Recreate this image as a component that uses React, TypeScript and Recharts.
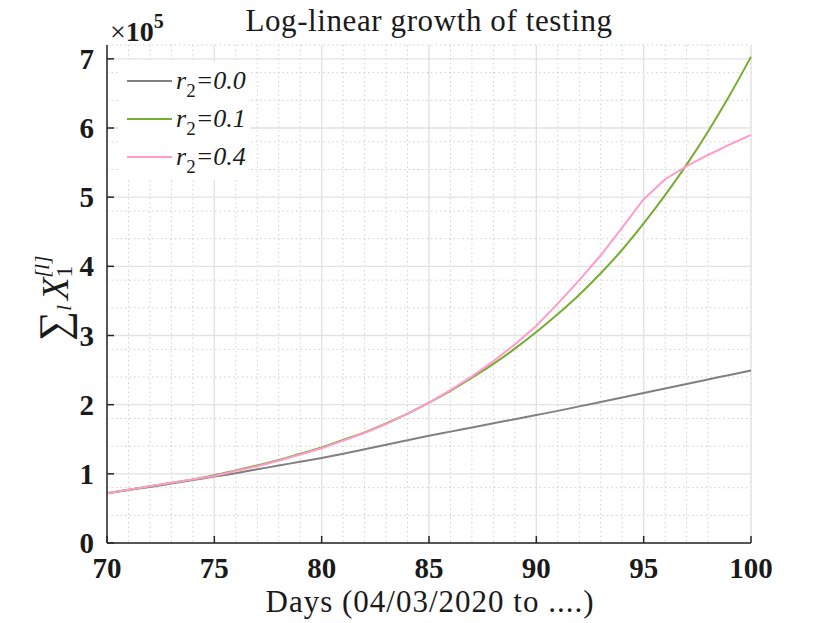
import React from "react";
import {
  LineChart,
  Line,
  XAxis,
  YAxis,
  CartesianGrid,
} from "recharts";

const days = [
  70, 71, 72, 73, 74, 75, 76, 77, 78, 79, 80, 81, 82, 83, 84, 85, 86, 87, 88,
  89, 90, 91, 92, 93, 94, 95, 96, 97, 98, 99, 100,
];

// cumulative tests, in units of 1e5
const r00 = [
  0.72, 0.765, 0.81, 0.86, 0.91, 0.96, 1.01, 1.065, 1.12, 1.175, 1.23, 1.29,
  1.355, 1.42, 1.485, 1.55, 1.61, 1.67, 1.73, 1.79, 1.85, 1.91, 1.975, 2.04,
  2.105, 2.17, 2.235, 2.3, 2.365, 2.43, 2.495,
];
const r01 = [
  0.72, 0.77, 0.82, 0.87, 0.92, 0.98, 1.05, 1.12, 1.2, 1.29, 1.38, 1.49, 1.6,
  1.73, 1.87, 2.03, 2.2, 2.39, 2.59, 2.81, 3.05, 3.31, 3.59, 3.9, 4.24, 4.62,
  5.03, 5.47, 5.95, 6.47, 7.03,
];
const r04 = [
  0.72, 0.77, 0.82, 0.87, 0.92, 0.97, 1.04, 1.11, 1.19, 1.28, 1.37, 1.48, 1.59,
  1.72, 1.87, 2.03, 2.21, 2.41, 2.63, 2.87, 3.14, 3.46, 3.8, 4.16, 4.56, 4.97,
  5.26, 5.45, 5.61, 5.76, 5.9,
];

const xTicks = [70, 75, 80, 85, 90, 95, 100];
const yTicks = [0, 1, 2, 3, 4, 5, 6, 7];
const yMinor = [
  0.2, 0.4, 0.6, 0.8, 1.2, 1.4, 1.6, 1.8, 2.2, 2.4, 2.6, 2.8, 3.2, 3.4, 3.6,
  3.8, 4.2, 4.4, 4.6, 4.8, 5.2, 5.4, 5.6, 5.8, 6.2, 6.4, 6.6, 6.8, 7.2,
];

const series = [
  { key: "r00", label: "0.0", color: "#808080", curve: "monotone" },
  { key: "r01", label: "0.1", color: "#77ac30", curve: "monotone" },
  { key: "r04", label: "0.4", color: "#ff9ccb", curve: "linear" },
];

const data = days.map((d, i) => ({ day: d, r00: r00[i], r01: r01[i], r04: r04[i] }));

const SERIF = "'Liberation Serif', 'DejaVu Serif', serif";
const AXIS = "#262626";

function YTick(props: any) {
  const { x, y, payload } = props;
  return (
    <g>
      <line x1={x + 13} x2={x + 20} y1={y} y2={y} stroke={AXIS} strokeWidth={1.5} />
      <text
        x={x}
        y={y}
        dy={10}
        textAnchor="end"
        fontFamily={SERIF}
        fontWeight="bold"
        fontSize={29}
        fill="#1a1a1a"
      >
        {payload.value}
      </text>
    </g>
  );
}

function XTick(props: any) {
  const { x, y, payload } = props;
  return (
    <g>
      <line x1={x} x2={x} y1={y - 8} y2={y - 15} stroke={AXIS} strokeWidth={1.5} />
      <text
        x={x}
        y={y}
        dy={27}
        textAnchor="middle"
        fontFamily={SERIF}
        fontWeight="bold"
        fontSize={29}
        fill="#1a1a1a"
      >
        {payload.value}
      </text>
    </g>
  );
}

export default function App() {
  return (
    <div style={{ position: "absolute", left: 0, top: 0, width: 830, height: 623, background: "#fff" }}>
      <LineChart
        width={830}
        height={623}
        data={data}
        margin={{ top: 45, right: 79, left: 47, bottom: 20 }}
      >
        <CartesianGrid
          stroke="#cfcfcf"
          strokeDasharray="1.5 3"
          verticalValues={days}
          horizontalValues={yMinor}
        />
        <CartesianGrid
          stroke="#e2e2e2"
          strokeWidth={1.3}
          verticalValues={xTicks}
          horizontalValues={yTicks}
        />
        <XAxis
          dataKey="day"
          type="number"
          domain={[70, 100]}
          ticks={xTicks}
          height={60}
          tickSize={8}
          tickMargin={0}
          tickLine={false}
          stroke={AXIS}
          strokeWidth={1.5}
          tick={<XTick />}
        />
        <YAxis
          type="number"
          domain={[0, 7.2]}
          ticks={yTicks}
          width={60}
          tickSize={13}
          tickMargin={0}
          tickLine={false}
          stroke={AXIS}
          strokeWidth={1.5}
          tick={<YTick />}
        />
        {series.map((s) => (
          <Line
            key={s.key}
            dataKey={s.key}
            name={s.label}
            type={s.curve as any}
            stroke={s.color}
            strokeWidth={2}
            dot={false}
            isAnimationActive={false}
          />
        ))}
      </LineChart>
      <svg
        width={830}
        height={623}
        style={{ position: "absolute", left: 0, top: 0, pointerEvents: "none" }}
      >
        <text x={429} y={31} textAnchor="middle" fontFamily={SERIF} fontSize={31} letterSpacing={0.6} fill="#1a1a1a">
          Log-linear growth of testing
        </text>
        <text x={110} y={41} fontFamily={SERIF} fontSize={28} fontWeight="bold" fill="#1a1a1a">
          <tspan fontWeight="normal">×</tspan>10
          <tspan fontSize={20} dy={-13}>5</tspan>
        </text>
        <text x={430} y={612} textAnchor="middle" fontFamily={SERIF} fontSize={31} letterSpacing={1} fill="#1a1a1a">
          Days (04/03/2020 to ....)
        </text>
        <text transform="translate(68,341) rotate(-90)" fontFamily={SERIF} fontSize={42} fill="#1a1a1a">
          ∑
          <tspan fontSize={22} fontStyle="italic" dy={3}>l</tspan>
          <tspan fontSize={37} fontStyle="italic" dy={-3} dx={5}>X</tspan>
          <tspan fontSize={23} dy={4}>1</tspan>
          <tspan fontSize={21} fontStyle="italic" dy={-23} dx={-12}>[l]</tspan>
        </text>
        <g transform="translate(118,62)">
          <rect x={0} y={0} width={132} height={118} fill="#fff" />
          {series.map((s, i) => {
            const cy = 19 + i * 38;
            return (
              <g key={s.key}>
                <line x1={9} x2={54} y1={cy} y2={cy} stroke={s.color} strokeWidth={2} />
                <text x={58} y={cy + 8} fontFamily={SERIF} fontSize={26} fontStyle="italic" fill="#1a1a1a">
                  r
                  <tspan fontSize={19} fontStyle="normal" dy={8}>2</tspan>
                  <tspan dy={-8}>={s.label}</tspan>
                </text>
              </g>
            );
          })}
        </g>
      </svg>
    </div>
  );
}
